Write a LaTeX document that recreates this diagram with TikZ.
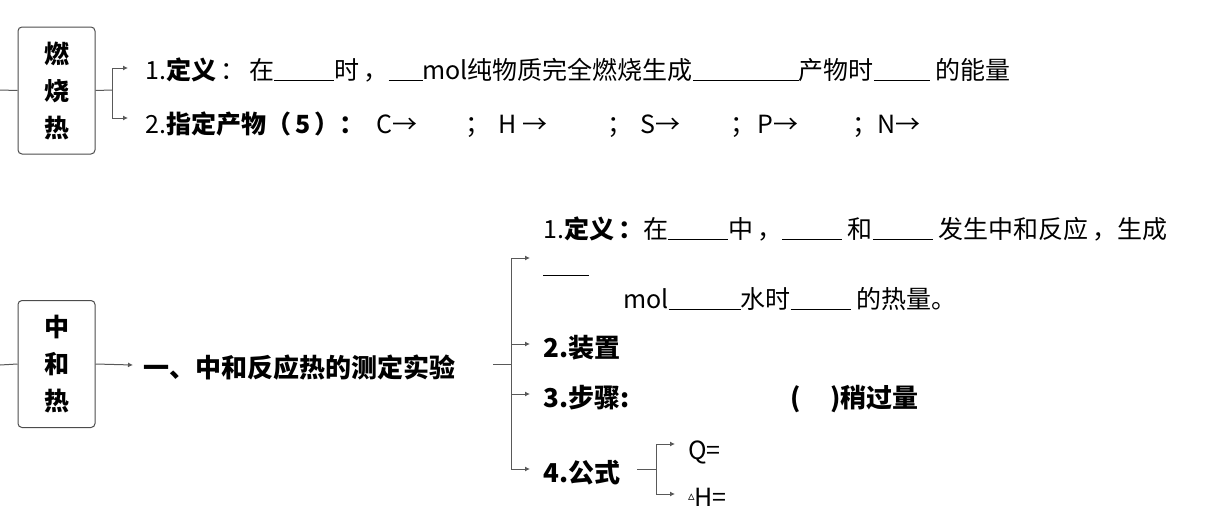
\documentclass[tikz,border=0pt]{standalone}
\usepackage{fontspec}
\setmainfont{Noto Sans CJK SC}
\newfontfamily\dejavu{DejaVu Sans}
\newcommand{\blk}[1]{\rule[-2pt]{#1pt}{1.2pt}}
\newcommand{\bb}[1]{{\bfseries #1}}
\begin{document}
\begin{tikzpicture}[x=1pt,y=-1pt,
  box/.style={draw=black!70,rounded corners=4pt,line width=1pt,minimum width=77pt,minimum height=127pt,align=center,font=\fontsize{25}{37}\selectfont\bfseries},
  txt/.style={anchor=base west,inner sep=0pt,font=\fontsize{25}{30}\selectfont},
  btxt/.style={txt,font=\fontsize{26}{30}\selectfont\bfseries},
  ln/.style={draw=black!65,line width=1pt},
  ar/.style={ln,-{Latex[length=5pt,width=5pt]}}]
\usetikzlibrary{arrows.meta}
\useasboundingbox (0,0) rectangle (1221,530);
% top group
\node[box] (b1) at (56.5,90.5) {燃\\烧\\热};
\coordinate (l1) at (0,90);
\draw[ln] (l1) -- (b1.west);
\coordinate (j1) at (112,90);
\coordinate (a1) at (128,68);
\coordinate (a2) at (128,118);
\draw[ln] (b1.east) -- (j1);
\draw[ar] (j1) |- (a1);
\draw[ar] (j1) |- (a2);
\node[txt] (t1) at (145,79) {1.\bb{定义}\,：\,在\blk{60}时\,，\blk{34}mol纯物质完全燃烧生成\blk{106}产物时\blk{56} 的能量};
\node[txt] (t2) at (145,133) {2.\bb{指定产物（\,5\,）：}};
\node[txt] (t2a) at (376,133) {C→};
\node[txt] (t2b) at (465,133) {；};
\node[txt] (t2c) at (498,133) {H →};
\node[txt] (t2d) at (607,133) {；};
\node[txt] (t2e) at (640,133) {S→};
\node[txt] (t2f) at (730,133) {；};
\node[txt] (t2g) at (757,133) {P→};
\node[txt] (t2h) at (852,133) {；N→};
% bottom group
\node[box] (b2) at (56.5,364) {中\\和\\热};
\coordinate (l2) at (0,365);
\draw[ln] (l2) -- (b2.west);
\coordinate (a3) at (133,365);
\draw[ar] (b2.east) -- (a3);
\node[btxt] (t3) at (143,377) {一、中和反应热的测定实验};
\coordinate (s0) at (493,364);
\coordinate (j2) at (511,364);
\draw[ln] (s0) -- (j2);
\coordinate (c1) at (530,258);
\coordinate (c2) at (530,344);
\coordinate (c3) at (530,394);
\coordinate (c4) at (530,469);
\draw[ar] (j2) |- (c1);
\draw[ar] (j2) |- (c2);
\draw[ar] (j2) |- (c3);
\draw[ar] (j2) |- (c4);
\node[txt] (d1) at (543,238) {1.\bb{定义\,：}在\blk{60}中\,，\blk{60} 和\blk{60} 发生中和反应\,，生成};
\node[txt] (d1b) at (543,274) {\blk{46}};
\node[txt] (d1c) at (623,308) {mol\blk{72}水时\blk{60} 的热量。};
\node[btxt] (d2) at (543,357) {2.装置};
\node[btxt] (d3) at (543,407) {3.步骤:};
\node[btxt] (d3b) at (790,407) {(\hspace{30pt})稍过量};
\node[btxt] (d4) at (543,482) {4.公式};
\coordinate (f0) at (637,469);
\coordinate (j3) at (656,469);
\coordinate (q1) at (675,444);
\coordinate (q2) at (675,494);
\draw[ln] (f0) -- (j3);
\draw[ar] (j3) |- (q1);
\draw[ar] (j3) |- (q2);
\node[txt] (e1) at (688,459) {Q=};
\node[txt] (e2) at (688,506) {\raisebox{6pt}{\dejavu\fontsize{13}{14}\selectfont ▵}H=};
\end{tikzpicture}
\end{document}
